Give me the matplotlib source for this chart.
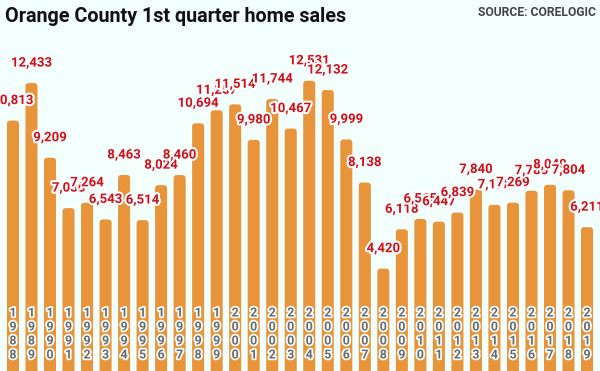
import matplotlib
matplotlib.use("Agg")
import matplotlib.pyplot as plt
import matplotlib.patheffects as pe
from matplotlib.patches import FancyBboxPatch
from matplotlib.transforms import blended_transform_factory

years = list(range(1988, 2020))
sales = [10813, 12433, 9209, 7033, 7264, 6543, 8463, 6514, 8024, 8460,
         10694, 11257, 11514, 9980, 11744, 10467, 12531, 12132, 9999, 8138,
         4420, 6118, 6565, 6447, 6839, 7840, 7175, 7269, 7785, 8040,
         7804, 6211]

title = "Orange County 1st quarter home sales"
source = "SOURCE: CORELOGIC"

bg = "#f3fffc"
bar_col = "#e8943a"
red = "#d0101a"
grey = "#666d72"

plt.rcParams['font.family'] = ['Roboto', 'DejaVu Sans']

fig = plt.figure(figsize=(6, 3.71), dpi=100, facecolor=bg)
ax = fig.add_axes([0, 0, 1, 1])
ax.set_facecolor(bg)
ax.set_xlim(-0.70, len(years) - 0.30)
ax.set_ylim(0, 16020)
ax.axis("off")

xs = list(range(len(years)))
px = 16020 / 371.0          # data units per pixel (y)
xpx = (len(years) + 0.4) / 600.0  # data units per pixel (x)

# bars with slightly rounded tops (bottom pushed below the axes)
bars = ax.bar(xs, sales, width=0.65, color=bar_col, zorder=2)
for b in bars:
    b.set_visible(False)
    x0, w, h = b.get_x(), b.get_width(), b.get_height()
    ax.add_patch(FancyBboxPatch((x0, -1000), w, h + 1000,
                                boxstyle="round,pad=0,rounding_size=%f" % (3 * xpx),
                                mutation_aspect=px / xpx,
                                facecolor=bar_col, edgecolor="none", zorder=2))

# value labels, about 20 px above the bar top
for x, v in zip(xs, sales):
    ax.text(x, v + 20 * px, f"{v:,}", ha="center", va="center",
            fontsize=9.5, fontweight="bold", color=red, zorder=5,
            path_effects=[pe.withStroke(linewidth=3, foreground="white")])

# stacked year digits near the bottom
tr = blended_transform_factory(ax.transData, ax.transAxes)
for x, y in zip(xs, years):
    for i, ch in enumerate(str(y)):
        ypix = 313 + 14 * i
        ax.text(x, (371 - ypix) / 371.0, ch, transform=tr, ha="center",
                va="center", fontsize=9, fontweight="bold", color=grey,
                zorder=4,
                path_effects=[pe.withStroke(linewidth=2.5, foreground="white")])

fig.text(5 / 600, 1 - 16 / 371, title, ha="left", va="center",
         fontsize=14.2, fontweight="bold", color="#111111")
fig.text(596 / 600, 1 - 12 / 371, source, ha="right", va="center",
         fontsize=8.7, fontweight="bold", color="#444444")

fig.savefig("out.png", dpi=100, facecolor=bg)
